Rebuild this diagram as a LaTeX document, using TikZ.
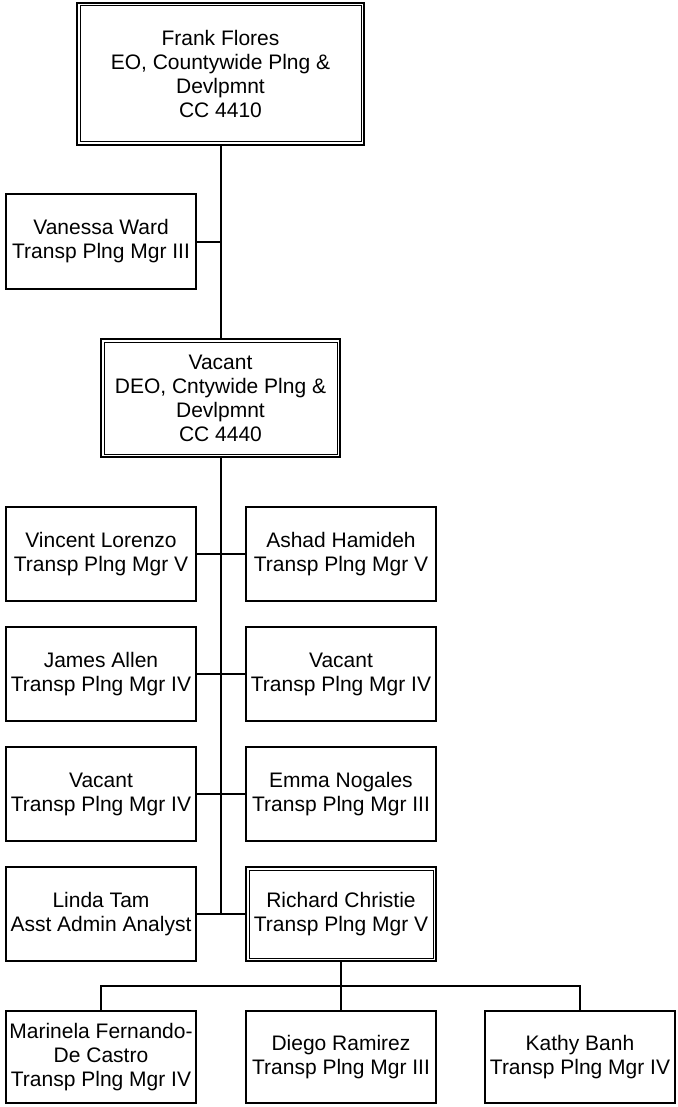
\documentclass[tikz,border=0pt]{standalone}
\usepackage{fontspec}
\setmainfont{Liberation Sans}
\begin{document}
\begin{tikzpicture}[x=1pt,y=-1pt,
  box/.style={draw, line width=2pt, minimum width=190pt, minimum height=94pt,
    align=center, inner sep=0pt, font=\fontsize{21}{24}\selectfont},
  dbox/.style={box},
  inner/.style={draw, line width=1pt},
  link/.style={line width=2pt}]
\useasboundingbox (0,0) rectangle (677,1107);
% top
\node[dbox, minimum width=287pt, minimum height=142pt] (ff) at (220.5,74)
  {Frank Flores\\EO, Countywide Plng \&\\Devlpmnt\\CC 4410};
\node[box, minimum height=95pt] (vw) at (101,241.5) {Vanessa Ward\\Transp Plng Mgr III};
\node[dbox, minimum width=239pt, minimum height=118pt] (deo) at (220.5,398)
  {Vacant\\DEO, Cntywide Plng \&\\Devlpmnt\\CC 4440};
% rows
\node[box] (vl) at (101,554) {Vincent Lorenzo\\Transp Plng Mgr V};
\node[box] (ah) at (341,554) {Ashad Hamideh\\Transp Plng Mgr V};
\node[box] (ja) at (101,674) {James Allen\\Transp Plng Mgr IV};
\node[box] (va) at (341,674) {Vacant\\Transp Plng Mgr IV};
\node[box] (vb) at (101,794) {Vacant\\Transp Plng Mgr IV};
\node[box] (en) at (341,794) {Emma Nogales\\Transp Plng Mgr III};
\node[box] (lt) at (101,914) {Linda Tam\\Asst Admin Analyst};
\node[dbox] (rc) at (341,914) {Richard Christie\\Transp Plng Mgr V};
% bottom
\node[box, minimum height=92pt] (mf) at (101,1057) {Marinela Fernando-\\De Castro\\Transp Plng Mgr IV};
\node[box, minimum height=92pt] (dr) at (341,1057) {Diego Ramirez\\Transp Plng Mgr III};
\node[box, minimum height=92pt] (kb) at (580,1057) {Kathy Banh\\Transp Plng Mgr IV};
% inner borders of the double boxes
\foreach \n in {ff,deo,rc}
  \draw[inner] ([xshift=4pt,yshift=-4pt]\n.north west) rectangle ([xshift=-4pt,yshift=4pt]\n.south east);
% connectors
\coordinate (j4) at (220.5,914);
\coordinate (bus) at (341,986);
\draw[link] (ff.south) -- (deo.north);
\draw[link] (deo.south) -- (j4);
\draw[link] (vw.east) -- (vw.east -| ff.south);
\draw[link] (vl.east) -- (ah.west);
\draw[link] (ja.east) -- (va.west);
\draw[link] (vb.east) -- (en.west);
\draw[link] (lt.east) -- (rc.west);
\draw[link] (rc.south) -- (bus);
\draw[link] (mf.north) |- (bus) -| (kb.north);
\draw[link] (bus) -- (dr.north);
\end{tikzpicture}
\end{document}
